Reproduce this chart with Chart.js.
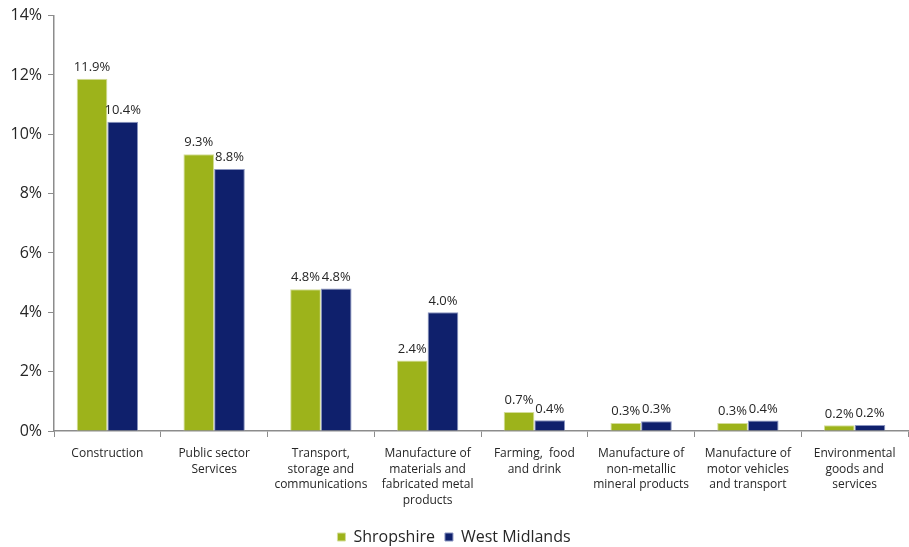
<!DOCTYPE html>
<html>
<head>
<meta charset="utf-8">
<script src="https://cdn.jsdelivr.net/npm/chart.js@4"></script>
<style>
html,body{margin:0;padding:0;background:#fff;}
#wrap{width:909px;height:547px;position:relative;}
</style>
</head>
<body>
<div id="wrap"><canvas id="c" width="909" height="547"></canvas></div>
<script>
const categories = [
  ["Construction"],
  ["Public sector", "Services"],
  ["Transport,", "storage and", "communications"],
  ["Manufacture of", "materials and", "fabricated metal", "products"],
  ["Farming,  food", "and drink"],
  ["Manufacture of", "non-metallic", "mineral products"],
  ["Manufacture of", "motor vehicles", "and transport"],
  ["Environmental", "goods and", "services"]
];
const shropshireValues = [11.87, 9.33, 4.78, 2.38, 0.64, 0.27, 0.27, 0.19];
const westMidlandsValues = [10.42, 8.83, 4.8, 4.0, 0.36, 0.33, 0.35, 0.2];
const shropshireLabels = ["11.9%", "9.3%", "4.8%", "2.4%", "0.7%", "0.3%", "0.3%", "0.2%"];
const westMidlandsLabels = ["10.4%", "8.8%", "4.8%", "4.0%", "0.4%", "0.3%", "0.4%", "0.2%"];
const yTicks = [0, 2, 4, 6, 8, 10, 12, 14];

const FONT = "'Open Sans', 'DejaVu Sans', sans-serif";
const valueLabelPlugin = {
  id: 'valueLabels',
  afterDatasetsDraw(chart) {
    const ctx = chart.ctx;
    const texts = [shropshireLabels, westMidlandsLabels];
    ctx.save();
    ctx.font = "13px " + FONT;
    ctx.fillStyle = "#262626";
    ctx.textAlign = "center";
    ctx.textBaseline = "bottom";
    chart.data.datasets.forEach((ds, di) => {
      chart.getDatasetMeta(di).data.forEach((bar, i) => {
        ctx.fillText(texts[di][i], bar.x, bar.y - 5);
      });
    });
    ctx.restore();
  }
};

new Chart(document.getElementById('c'), {
  type: 'bar',
  data: {
    labels: categories,
    datasets: [
      { label: 'Shropshire', data: shropshireValues, backgroundColor: '#9db31b', borderColor: '#d4dd9a', borderWidth: 1 },
      { label: 'West Midlands', data: westMidlandsValues, backgroundColor: '#0f206c', borderColor: '#8b95c0', borderWidth: 1 }
    ]
  },
  options: {
    responsive: false,
    animation: false,
    devicePixelRatio: 1,
    layout: { padding: { top: 13, right: 1, left: 0, bottom: -8 } },
    datasets: { bar: { categoryPercentage: 0.575, barPercentage: 1.0 } },
    plugins: {
      legend: {
        position: 'bottom',
        labels: { boxWidth: 8, boxHeight: 8, padding: 10, color: '#262626', font: { size: 16, family: FONT } }
      },
      tooltip: { enabled: false }
    },
    scales: {
      x: {
        grid: { display: true, drawOnChartArea: false, drawTicks: true, tickLength: 6, color: '#8c8c8c', offset: true },
        border: { color: '#8c8c8c', width: 1.5 },
        ticks: { color: '#262626', font: { size: 12, family: FONT, lineHeight: 1.3 }, maxRotation: 0, autoSkip: false, padding: 9 },
        afterFit(s) { s.height = 88; }
      },
      y: {
        min: 0, max: 14,
        afterBuildTicks(s) { s.ticks = yTicks.map(v => ({ value: v })); },
        grid: { display: true, drawOnChartArea: false, drawTicks: true, tickLength: 6, color: '#8c8c8c' },
        border: { color: '#8c8c8c', width: 1.5 },
        ticks: { color: '#262626', font: { size: 16, family: FONT }, padding: 6, callback: v => v + '%' },
        afterFit(s) { s.width = 54; }
      }
    }
  },
  plugins: [valueLabelPlugin]
});
</script>
</body>
</html>
